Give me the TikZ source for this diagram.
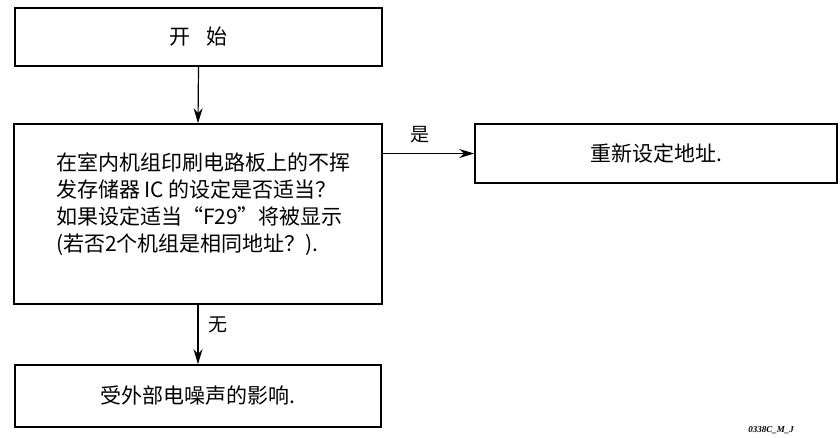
\documentclass[tikz,border=0pt]{standalone}
\usepackage{fontspec}
\setmainfont{Noto Sans CJK SC}
\newfontfamily\latinserif{Liberation Serif}
\newcommand\mytightlines{\lineskiplimit=-50pt\relax}
\usetikzlibrary{arrows.meta}
\begin{document}
\begin{tikzpicture}[x=1pt,y=-1pt]
\tikzset{
  box/.style={draw, line width=1.6pt, inner sep=0pt, font=\fontsize{21}{27}\selectfont\mytightlines},
  boxtext/.style={inner sep=0pt, font=\fontsize{21}{27}\selectfont\mytightlines},
  conn/.style={line width=1.2pt, -{Stealth[length=15pt,width=9pt]}},
  lbl/.style={font=\fontsize{19}{20}\selectfont, inner sep=0pt}
}
\fill[white] (0,0) rectangle (840,437);
\useasboundingbox (0,0) rectangle (840,437);

\node[box, minimum width=367pt, minimum height=58pt] (start) at (198.5,37) {开\hspace{16pt}始};
\node[box, minimum width=368pt, minimum height=180pt] (check) at (198,214) {};
\node[boxtext, align=left] (checktext) at (203,204)
  {在室内机组印刷电路板上的不挥\\发存储器 IC 的设定是否适当？\\如果设定适当“F29”将被显示\\(若否2个机组是相同地址？).};
\node[box, minimum width=362pt, minimum height=59pt] (reset) at (656,153.5) {重新设定地址.};
\node[box, minimum width=366pt, minimum height=62pt] (noise) at (198,396) {受外部电噪声的影响.};

\draw[conn] (start.south) -- (check.north);
\draw[conn] (check.east |- reset.west) -- (reset.west);
\draw[conn] (check.south) -- (noise.north);

\node[lbl] (yes) at (420,135) {是};
\node[lbl] (no) at (218,325) {无};
\node[font=\latinserif\bfseries\itshape\fontsize{9}{9}\selectfont, inner sep=0pt] (code) at (771,430) {0338C\_M\_J};
\end{tikzpicture}
\end{document}
